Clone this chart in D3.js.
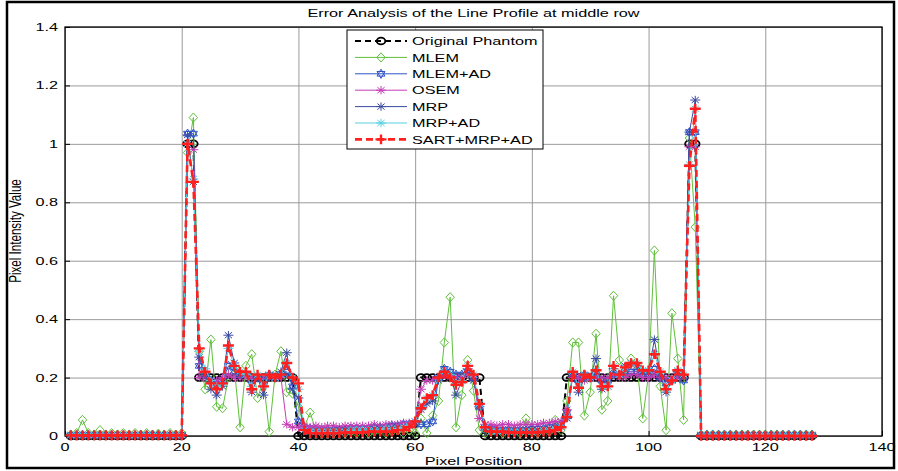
<!DOCTYPE html>
<html><head><meta charset="utf-8">
<script src="https://cdn.jsdelivr.net/npm/d3@7"></script>
<style>
html,body{margin:0;padding:0;background:#fff;}
svg{display:block;font-family:"Liberation Sans",Arial,sans-serif;}
</style></head>
<body><svg id="c" width="898" height="471"></svg>
<script>
// ---------- data ----------
const pixelPositions = d3.range(1, 129);
const xTicks = [0, 20, 40, 60, 80, 100, 120, 140];
const yTicks = [0, 0.2, 0.4, 0.6, 0.8, 1, 1.2, 1.4];
const yTickLabels = ["0", "0.2", "0.4", "0.6", "0.8", "1", "1.2", "1.4"];
const seriesNames = ["Original Phantom", "MLEM", "MLEM+AD", "OSEM", "MRP", "MRP+AD", "SART+MRP+AD"];

const phantom = [
0,0,0,0,0,0,0,0,0,0, 0,0,0,0,0,0,0,0,0,0,
1,1,0.2,0.2,0.2,0.2,0.2,0.2,0.2,0.2, 0.2,0.2,0.2,0.2,0.2,0.2,0.2,0.2,0.2,0,
0,0,0,0,0,0,0,0,0,0, 0,0,0,0,0,0,0,0,0,0,
0.2,0.2,0.2,0.2,0.2,0.2,0.2,0.2,0.2,0.2, 0.2,0,0,0,0,0,0,0,0,0,
0,0,0,0,0,0.2,0.2,0.2,0.2,0.2, 0.2,0.2,0.2,0.2,0.2,0.2,0.2,0.2,0.2,0.2,
0.2,0.2,0.2,0.2,0.2,0.2,1,1,0,0, 0,0,0,0,0,0,0,0,0,0,
0,0,0,0,0,0,0,0];

const mlem = [
0.005,0.01,0.055,0.01,0.005,0.02,0.005,0.01,0.005,0.01, 0.005,0.01,0.005,0.01,0.005,0.008,0.005,0.01,0.005,0.01,
0.97,1.09,0.29,0.16,0.33,0.10,0.095,0.20,0.235,0.03, 0.24,0.28,0.13,0.19,0.015,0.21,0.29,0.15,0.145,0.10,
0.03,0.08,0.02,0.01,0.015,0.01,0.02,0.01,0.015,0.01, 0.02,0.01,0.015,0.02,0.01,0.015,0.02,0.01,0.02,0.01,
0.06,0.01,0.07,0.12,0.32,0.475,0.03,0.14,0.26,0.155, 0.02,0.01,0.015,0.02,0.01,0.02,0.015,0.01,0.06,0.015,
0.01,0.02,0.015,0.055,0.02,0.12,0.32,0.32,0.07,0.15, 0.35,0.09,0.12,0.48,0.26,0.21,0.265,0.24,0.06,0.21,
0.635,0.17,0.02,0.42,0.265,0.055,1.02,0.715,0.005,0.005, 0.005,0.005,0.005,0.005,0.005,0.005,0.005,0.005,0.005,0.005,
0.005,0.005,0.005,0.005,0.005,0.005,0.005,0.005];

const mlemAD = [
0.003,0.003,0.003,0.003,0.003,0.003,0.003,0.003,0.003,0.003, 0.003,0.003,0.003,0.003,0.003,0.003,0.003,0.003,0.003,0.003,
1.035,1.035,0.24,0.21,0.19,0.18,0.19,0.24,0.22,0.21, 0.21,0.19,0.20,0.19,0.21,0.20,0.21,0.22,0.17,0.05,
0.03,0.025,0.02,0.02,0.02,0.02,0.02,0.02,0.025,0.025, 0.025,0.025,0.03,0.03,0.03,0.035,0.035,0.04,0.04,0.045,
0.04,0.04,0.05,0.20,0.23,0.22,0.21,0.21,0.22,0.20, 0.10,0.03,0.025,0.02,0.02,0.02,0.02,0.02,0.02,0.025,
0.025,0.025,0.03,0.03,0.04,0.08,0.21,0.19,0.21,0.20, 0.22,0.19,0.19,0.21,0.21,0.22,0.22,0.22,0.21,0.21,
0.23,0.20,0.18,0.19,0.21,0.19,1.04,1.04,0.003,0.003, 0.003,0.003,0.003,0.003,0.003,0.003,0.003,0.003,0.003,0.003,
0.003,0.003,0.003,0.003,0.003,0.003,0.003,0.003];

const osem = [
0.002,0.002,0.002,0.002,0.002,0.002,0.002,0.002,0.002,0.002, 0.002,0.002,0.002,0.002,0.002,0.002,0.002,0.002,0.002,0.002,
1.0,0.98,0.20,0.20,0.19,0.19,0.20,0.21,0.20,0.20, 0.20,0.20,0.20,0.20,0.20,0.20,0.20,0.04,0.03,0.03,
0.035,0.03,0.035,0.03,0.035,0.035,0.03,0.035,0.035,0.035, 0.035,0.035,0.04,0.035,0.04,0.04,0.04,0.045,0.045,0.05,
0.16,0.19,0.19,0.20,0.21,0.20,0.20,0.20,0.21,0.20, 0.06,0.04,0.04,0.035,0.04,0.04,0.035,0.04,0.04,0.04,
0.04,0.045,0.045,0.05,0.05,0.09,0.20,0.20,0.19,0.20, 0.20,0.20,0.20,0.21,0.20,0.20,0.21,0.21,0.20,0.20,
0.21,0.20,0.20,0.20,0.20,0.20,0.99,0.99,0.002,0.002, 0.002,0.002,0.002,0.002,0.002,0.002,0.002,0.002,0.002,0.002,
0.002,0.002,0.002,0.002,0.002,0.002,0.002,0.002];

const mrp = [
0.003,0.003,0.003,0.003,0.003,0.003,0.003,0.003,0.003,0.003, 0.003,0.003,0.003,0.003,0.003,0.003,0.003,0.003,0.003,0.003,
1.03,0.87,0.27,0.21,0.16,0.14,0.17,0.345,0.25,0.21, 0.21,0.15,0.20,0.14,0.20,0.20,0.22,0.285,0.16,0.13,
0.02,0.015,0.015,0.015,0.015,0.015,0.02,0.02,0.02,0.02, 0.02,0.02,0.025,0.025,0.025,0.03,0.03,0.03,0.035,0.04,
0.09,0.11,0.12,0.19,0.22,0.21,0.14,0.19,0.23,0.19, 0.10,0.02,0.015,0.015,0.015,0.015,0.015,0.015,0.02,0.02,
0.02,0.02,0.025,0.03,0.03,0.06,0.21,0.15,0.20,0.20, 0.265,0.16,0.17,0.23,0.21,0.24,0.25,0.24,0.22,0.22,
0.33,0.21,0.15,0.19,0.22,0.20,1.04,1.15,0.003,0.003, 0.003,0.003,0.003,0.003,0.003,0.003,0.003,0.003,0.003,0.003,
0.003,0.003,0.003,0.003,0.003,0.003,0.003,0.003];

const mrpAD = [
0.003,0.003,0.003,0.003,0.003,0.003,0.003,0.003,0.003,0.003, 0.003,0.003,0.003,0.003,0.003,0.003,0.003,0.003,0.003,0.003,
1.0,0.88,0.29,0.23,0.19,0.17,0.18,0.30,0.24,0.22, 0.21,0.17,0.21,0.17,0.21,0.20,0.21,0.25,0.20,0.16,
0.02,0.015,0.015,0.015,0.015,0.015,0.015,0.015,0.02,0.02, 0.02,0.02,0.02,0.02,0.025,0.025,0.025,0.03,0.035,0.05,
0.10,0.13,0.14,0.20,0.22,0.21,0.18,0.19,0.24,0.21, 0.11,0.03,0.015,0.015,0.015,0.015,0.015,0.015,0.015,0.015,
0.015,0.02,0.02,0.025,0.03,0.065,0.22,0.17,0.21,0.20, 0.225,0.17,0.17,0.24,0.21,0.235,0.25,0.25,0.225,0.225,
0.28,0.22,0.16,0.19,0.225,0.21,0.93,1.12,0.003,0.003, 0.003,0.003,0.003,0.003,0.003,0.003,0.003,0.003,0.003,0.003,
0.003,0.003,0.003,0.003,0.003,0.003,0.003,0.003];

const sartMrpAD = [
0.002,0.002,0.002,0.002,0.002,0.002,0.002,0.002,0.002,0.002, 0.002,0.002,0.002,0.002,0.002,0.002,0.002,0.002,0.002,0.002,
1.0,0.87,0.30,0.22,0.18,0.16,0.18,0.31,0.24,0.22, 0.22,0.16,0.21,0.17,0.21,0.20,0.21,0.25,0.20,0.18,
0.02,0.01,0.01,0.01,0.01,0.01,0.01,0.012,0.012,0.012, 0.012,0.015,0.015,0.015,0.015,0.015,0.02,0.02,0.03,0.05,
0.095,0.13,0.14,0.20,0.22,0.20,0.175,0.185,0.24,0.21, 0.11,0.03,0.015,0.015,0.015,0.012,0.012,0.012,0.012,0.012,
0.012,0.015,0.015,0.02,0.03,0.065,0.22,0.165,0.21,0.20, 0.225,0.17,0.17,0.24,0.21,0.235,0.25,0.25,0.225,0.225,
0.28,0.22,0.16,0.19,0.225,0.21,0.925,1.12,0,0, 0,0,0,0,0,0,0,0,0,0,
0,0,0,0,0,0,0,0];

// ---------- styles ----------
const SX = 1.4;       // horizontal stretch of the original figure
const FS = 11.6;      // font size
const styles = [
  {color:"#000000", width:2,   dash:"6,4", marker:"circle"},
  {color:"#5fc03a", width:1,   dash:null,  marker:"diamond"},
  {color:"#2f55c8", width:1,   dash:null,  marker:"hexagram"},
  {color:"#c43cb4", width:1,   dash:null,  marker:"star"},
  {color:"#3a4aa0", width:1,   dash:null,  marker:"star"},
  {color:"#57cfe0", width:1,   dash:null,  marker:"star"},
  {color:"#ff1f1f", width:2.6, dash:"7,4", marker:"plus"}
];
const seriesValues = [phantom, mlem, mlemAD, osem, mrp, mrpAD, sartMrpAD];

function markerPath(type){
  switch(type){
    case "circle": return null;
    case "diamond": return "M0,-4.6L4.2,0L0,4.6L-4.2,0Z";
    case "hexagram": {
      const r = 4.6, a = r*0.866, b = r/2;
      return `M0,${-r}L${a},${b}L${-a},${b}Z M0,${r}L${a},${-b}L${-a},${-b}Z`;
    }
    case "star": return "M-5,0L5,0M0,-4.2L0,4.2M-3.6,-3L3.6,3M-3.6,3L3.6,-3";
    case "plus": return "M-5.5,0L5.5,0M0,-4.8L0,4.8";
  }
}

const svg = d3.select("#c");
const L = 65, R = 882, T = 27, B = 436;
const x = d3.scaleLinear().domain([0, 140]).range([L, R]);
const y = d3.scaleLinear().domain([0, 1.4]).range([B, T]);

// outer frame
svg.append("rect").attr("x",7).attr("y",2).attr("width",887).attr("height",466)
  .attr("fill","none").attr("stroke","#000").attr("stroke-width",2.5);

// grid
svg.append("g").attr("transform",`translate(0,${B})`)
  .call(d3.axisBottom(x).tickValues(xTicks).tickSize(-(B-T)).tickFormat(""))
  .call(g=>g.select(".domain").remove())
  .selectAll("line").attr("stroke","#9a9a9a").attr("stroke-width",1);
svg.append("g").attr("transform",`translate(${L},0)`)
  .call(d3.axisLeft(y).tickValues(yTicks).tickSize(-(R-L)).tickFormat(""))
  .call(g=>g.select(".domain").remove())
  .selectAll("line").attr("stroke","#9a9a9a").attr("stroke-width",1);

// inward ticks
svg.append("g").attr("transform",`translate(0,${B})`)
  .call(d3.axisBottom(x).tickValues(xTicks).tickSize(-5).tickFormat(""))
  .call(g=>g.select(".domain").remove())
  .selectAll("line").attr("stroke","#000");
svg.append("g").attr("transform",`translate(${L},0)`)
  .call(d3.axisLeft(y).tickValues(yTicks).tickSize(-5).tickFormat(""))
  .call(g=>g.select(".domain").remove())
  .selectAll("line").attr("stroke","#000");

// plot box
svg.append("rect").attr("x",L).attr("y",T).attr("width",R-L).attr("height",B-T)
  .attr("fill","none").attr("stroke","#000").attr("stroke-width",1.3);

function stext(px, py, str, anchor, rot){
  return svg.append("text")
    .attr("transform",`translate(${px},${py}) scale(${SX},1)` + (rot ? ` rotate(${rot})` : ""))
    .attr("text-anchor", anchor).attr("font-size", FS).attr("fill","#000").text(str);
}

// tick labels
xTicks.forEach(v => stext(x(v), B + 15, String(v), "middle"));
yTicks.forEach((v,i) => stext(L - 7, y(v) + 4, yTickLabels[i], "end"));

// titles
stext((L+R)/2, 17, "Error Analysis of the Line Profile at middle row", "middle");
stext((L+R)/2, 465, "Pixel Position", "middle");
stext(21, 231, "Pixel Intensity Value", "middle", -90);

// series
const plot = svg.append("g");
const lineGen = d3.line().x(d=>x(d[0])).y(d=>y(d[1]));
function drawMarker(g, type, color, sw){
  if(type === "circle"){
    g.append("ellipse").attr("rx",4.3).attr("ry",3.4).attr("fill","none")
      .attr("stroke",color).attr("stroke-width",1.8);
  } else {
    g.append("path").attr("d", markerPath(type)).attr("fill","none")
      .attr("stroke",color).attr("stroke-width",sw);
  }
}
seriesValues.forEach((vals, si) => {
  const st = styles[si];
  const pts = pixelPositions.map((p,i)=>[p, vals[i]]);
  const g = plot.append("g");
  g.append("path").attr("d", lineGen(pts)).attr("fill","none")
    .attr("stroke", st.color).attr("stroke-width", st.width)
    .attr("stroke-dasharray", st.dash);
  const msw = st.marker === "plus" ? 2.4 : 1;
  pts.forEach(p => {
    const mg = g.append("g").attr("transform",`translate(${x(p[0])},${y(p[1])})`);
    drawMarker(mg, st.marker, st.color, msw);
  });
});

// legend
const lg = svg.append("g");
lg.append("rect").attr("x",347).attr("y",30).attr("width",196).attr("height",119)
  .attr("fill","#fff").attr("stroke","#000").attr("stroke-width",1);
seriesNames.forEach((name, i) => {
  const st = styles[i];
  const ly = 41 + i*16.4;
  lg.append("line").attr("x1",355).attr("x2",407).attr("y1",ly).attr("y2",ly)
    .attr("stroke",st.color).attr("stroke-width",st.width).attr("stroke-dasharray",st.dash);
  const mg = lg.append("g").attr("transform",`translate(381,${ly})`);
  drawMarker(mg, st.marker, st.color, st.marker === "plus" ? 2.4 : 1);
  lg.append("text").attr("transform",`translate(412,${ly+4.2}) scale(${SX},1)`)
    .attr("font-size",FS).attr("fill","#000").text(name);
});
</script></body></html>
